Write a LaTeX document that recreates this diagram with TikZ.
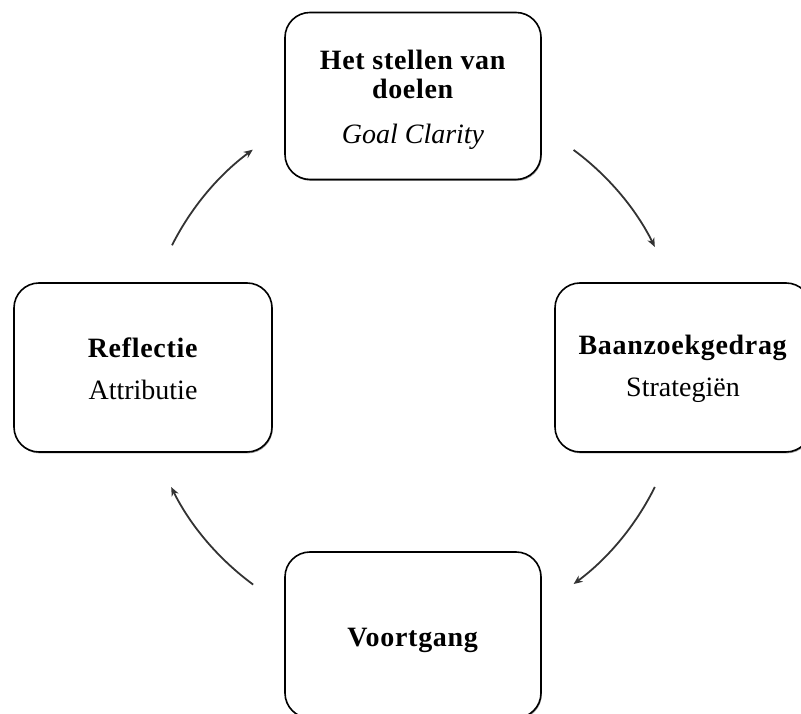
\documentclass[tikz,border=0pt]{standalone}
\usepackage{fontspec}
\setmainfont{Liberation Serif}[BoldFeatures={LetterSpace=2.5}]
\usetikzlibrary{arrows.meta,shadows,calc}
\begin{document}
\begin{tikzpicture}[x=1pt,y=1pt,
  box/.style={draw=black, line width=1.6pt, rounded corners=25pt, fill=white,
    minimum width=256pt, minimum height=167pt, inner sep=0pt,
    drop shadow={shadow xshift=0.8pt, shadow yshift=-1.4pt, opacity=0.75}},
  txt/.style={align=center, font=\fontsize{28}{29}\selectfont, inner sep=0pt},
  arr/.style={draw=black!80, line width=1.8pt, -{Stealth[length=9pt,width=7.5pt]}}]
\useasboundingbox (0,0) rectangle (801,714);
\clip (0,0) rectangle (801,714);
\node[box] (goal) at (413,618) {};
\node[box, minimum width=258pt, minimum height=169pt] (refl) at (143,346.5) {};
\node[box, minimum height=169pt] (baan) at (683,346.5) {};
\node[box, minimum height=166pt] (voort) at (413,79) {};
\node[txt] (goalt) at ([yshift=-4pt]goal.center) {\textbf{Het stellen van}\\\textbf{doelen}\\[16pt]\textit{Goal Clarity}};
\node[txt] (reflt) at ([yshift=-1pt]refl.center) {\textbf{Reflectie}\\[13pt]Attributie};
\node[txt] (baant) at ([yshift=-1pt]baan.center) {\textbf{Baanzoekgedrag}\\[13pt]Strategiën};
\node[txt] (voortt) at ([yshift=-5pt]voort.center) {\textbf{Voortgang}};
\coordinate (c) at (413,347);
\coordinate (a1) at ($(c)+(53.5:270)$);
\coordinate (a2) at ($(c)+(-26.4:270)$);
\coordinate (a3) at ($(c)+(233.7:270)$);
\coordinate (a4) at ($(c)+(153.2:270)$);
\draw[arr] (a1) arc[start angle=53.5, end angle=26.4, radius=270];
\draw[arr] (a2) arc[start angle=-26.4, end angle=-53.5, radius=270];
\draw[arr] (a3) arc[start angle=233.7, end angle=206.4, radius=270];
\draw[arr] (a4) arc[start angle=153.2, end angle=126.4, radius=270];
\end{tikzpicture}
\end{document}
